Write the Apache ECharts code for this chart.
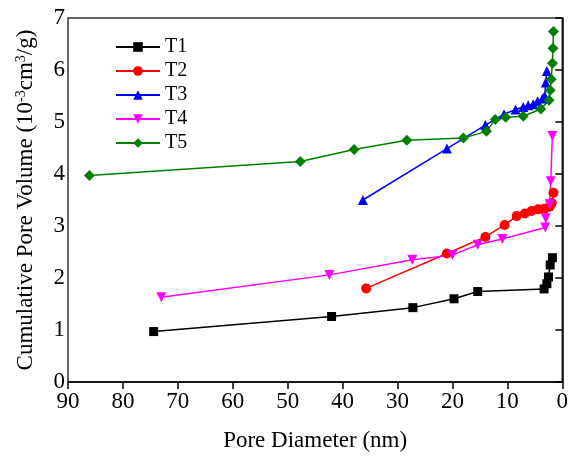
<!DOCTYPE html>
<html>
<head>
<meta charset="utf-8">
<script src="https://cdn.jsdelivr.net/npm/echarts@6/dist/echarts.min.js"></script>
<style>
  html, body { margin: 0; padding: 0; background: #fff; }
  #chart { width: 571px; height: 459px; }
</style>
</head>
<body>
<div id="chart"></div>
<script>
const seriesNames = ['T1', 'T2', 'T3', 'T4', 'T5'];

const t1X = [74.4, 42.0, 27.2, 19.7, 15.4, 3.3, 2.8, 2.5, 2.2, 1.8];
const t1Y = [0.97, 1.26, 1.43, 1.60, 1.74, 1.79, 1.89, 2.02, 2.25, 2.39];

const t2X = [35.7, 21.0, 14.0, 10.5, 8.3, 6.8, 5.6, 4.4, 3.3, 2.3, 1.9, 1.6];
const t2Y = [1.80, 2.47, 2.79, 3.02, 3.19, 3.24, 3.29, 3.32, 3.33, 3.37, 3.44, 3.64];

const t3X = [36.3, 21.0, 14.0, 10.6, 8.5, 7.1, 6.2, 5.3, 4.5, 3.6, 3.2, 3.0, 2.8];
const t3Y = [3.50, 4.49, 4.94, 5.15, 5.24, 5.29, 5.32, 5.34, 5.40, 5.45, 5.50, 5.76, 5.98];

const t4X = [73.0, 42.4, 27.3, 20.0, 15.4, 10.9, 3.1, 3.0, 2.3, 2.1, 1.8];
const t4Y = [1.63, 2.06, 2.35, 2.44, 2.64, 2.75, 2.97, 3.15, 3.42, 3.86, 4.73];

const t5X = [86.1, 47.7, 37.9, 28.3, 18.0, 13.8, 12.2, 10.3, 7.1, 3.9, 2.4, 2.2, 2.0, 1.8, 1.7, 1.6];
const t5Y = [3.97, 4.24, 4.47, 4.65, 4.69, 4.82, 5.05, 5.09, 5.11, 5.25, 5.42, 5.61, 5.82, 6.13, 6.42, 6.74];

const xs = [t1X, t2X, t3X, t4X, t5X];
const ys = [t1Y, t2Y, t3Y, t4Y, t5Y];
const colors = ['#000000', '#ff0000', '#0000ff', '#ff00ff', '#008000'];
const symbols = ['rect', 'circle', 'triangle', 'triangle', 'diamond'];
const rotates = [0, 0, 0, 180, 0];
const sizes = [9, 10, 10, 10, 11];

const font = '"Liberation Serif", "DejaVu Serif", serif';
const chart = echarts.init(document.getElementById('chart'));

chart.setOption({
  animation: false,
  textStyle: { fontFamily: font },
  grid: { left: 68, right: 6, top: 18, bottom: 77, show: true, borderColor: '#333', borderWidth: 1.5, backgroundColor: 'transparent' },
  legend: {
    orient: 'vertical',
    left: 110,
    top: 32,
    itemWidth: 44,
    itemHeight: 12,
    itemGap: 4,
    textStyle: { fontFamily: font, fontSize: 20, color: '#000' },
    data: seriesNames
  },
  xAxis: {
    type: 'value',
    min: 0,
    max: 90,
    interval: 10,
    inverse: true,
    name: 'Pore Diameter (nm)',
    nameLocation: 'middle',
    nameGap: 47,
    nameTextStyle: { fontFamily: font, fontSize: 23, color: '#000' },
    axisLine: { lineStyle: { color: '#000', width: 1.5 } },
    axisTick: { show: true, inside: false, length: 7, lineStyle: { color: '#000', width: 1.5 } },
    axisLabel: { fontFamily: font, fontSize: 23, color: '#000', margin: 8 },
    splitLine: { show: false }
  },
  yAxis: {
    type: 'value',
    min: 0,
    max: 7,
    interval: 1,
    name: 'Cumulative Pore Volume (10{sup|-3}cm{sup|3}/g)',
    nameLocation: 'middle',
    nameGap: 30,
    nameTextStyle: {
      fontFamily: font, fontSize: 23, color: '#000',
      rich: { sup: { fontFamily: font, fontSize: 14, color: '#000', verticalAlign: 'top', padding: [0, 0, 10, 0] } }
    },
    axisLine: { show: true, lineStyle: { color: '#000', width: 1.5 } },
    axisTick: { show: true, inside: false, length: 7, lineStyle: { color: '#000', width: 1.5 } },
    axisLabel: { fontFamily: font, fontSize: 23, color: '#000', margin: 3 },
    splitLine: { show: false }
  },
  series: seriesNames.map((name, i) => ({
    name,
    type: 'line',
    data: xs[i].map((x, j) => [x, ys[i][j]]),
    symbol: symbols[i],
    symbolSize: sizes[i],
    symbolRotate: rotates[i],
    showAllSymbol: true,
    color: colors[i],
    lineStyle: { color: colors[i], width: 1.5 },
    itemStyle: { color: colors[i] }
  }))
});
</script>
</body>
</html>
